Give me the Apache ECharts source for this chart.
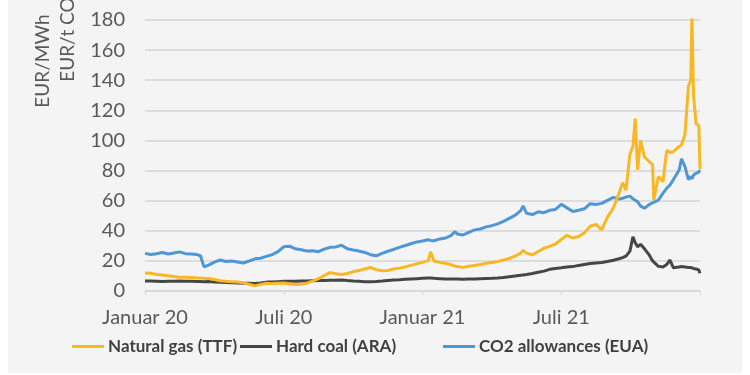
<!DOCTYPE html>
<html>
<head>
<meta charset="utf-8">
<script src="https://cdn.jsdelivr.net/npm/echarts@6/dist/echarts.min.js"></script>
<style>
html,body{margin:0;padding:0;background:#ffffff;}
#chart{width:750px;height:375px;}
</style>
</head>
<body>
<div id="chart"></div>
<script>
// x positions: months since January 2020 (0 = 1 Jan 2020, 24 = 1 Jan 2022)
var t = [0,0.25,0.5,0.75,1,1.25,1.5,1.75,2,2.25,2.4,2.55,2.75,3,3.25,3.5,3.75,4,4.25,4.5,4.75,5,5.25,5.5,5.75,6,6.25,6.5,6.75,7,7.25,7.5,7.75,8,8.25,8.5,8.75,9,9.25,9.5,9.75,10,10.25,10.5,10.75,11,11.25,11.5,11.75,12,12.25,12.35,12.5,12.75,13,13.25,13.4,13.5,13.75,14,14.25,14.5,14.75,15,15.25,15.5,15.75,16,16.25,16.35,16.5,16.75,17,17.25,17.5,17.75,18,18.25,18.5,18.75,19,19.25,19.5,19.75,20,20.25,20.5,20.65,20.8,20.97,21.1,21.2,21.3,21.43,21.6,21.8,21.95,22,22.2,22.4,22.56,22.7,22.85,23.1,23.2,23.35,23.5,23.6,23.65,23.72,23.83,23.95,24];

var gasTTF = [12,11.8,11,10.6,10.2,9.6,9.2,9.1,8.9,8.7,8.6,8.4,8.3,7.6,6.8,6.4,6.2,6,5.4,4.5,3.4,4.4,5.2,4.9,5.1,5.3,4.8,4.3,4.5,5.2,6.6,8.2,10.2,12.2,11.4,11,11.6,12.8,13.6,14.6,15.6,14.2,13.4,13.6,14.6,15.2,16,17,18,19,20.2,26,19.8,19,18.4,17.4,16.6,16.2,15.7,16.4,17,17.6,18.4,19,19.6,20.6,21.6,23.2,25.2,27,25.2,24,26.2,28.4,29.6,31.2,34.2,37,35.2,36.2,38.6,43,44.2,40.6,49.2,55,65,72,67,91,96,114.5,80.5,100,89,86,84,60.5,76,72.6,93.5,92,92.6,96,97,104,136,140,183,130,111,110,81];

var coalARA = [6.6,6.7,6.5,6.3,6.4,6.5,6.6,6.5,6.4,6.3,6.3,6.2,6.3,6.0,5.8,5.6,5.4,5.3,5.2,5.1,5.0,5.3,5.9,6.0,6.2,6.4,6.5,6.5,6.6,6.6,6.8,7.0,7.0,7.1,7.2,7.3,6.9,6.6,6.4,6.2,6.2,6.3,6.6,7.0,7.3,7.5,7.8,8.0,8.2,8.4,8.6,8.6,8.4,8.2,8.0,8.0,7.9,7.9,7.8,7.9,8.0,8.2,8.3,8.4,8.6,9.0,9.5,10,10.5,10.7,11,11.6,12.4,13.2,14.4,15,15.4,16,16.2,17,17.6,18.2,18.6,19,19.6,20.4,21.4,22.2,23.2,26.5,36,32,29.4,31,28,24,20,19.4,16.4,16,17.6,20.6,15.4,16,16.2,16,15.6,15.6,15.2,15,14.6,14,11.8];

var co2EUA = [25,24.3,24.8,25.6,24.6,25.2,26,24.8,24.6,24.2,23.4,16,17.2,19.2,20.6,19.6,19.9,19.3,18.6,19.9,21.4,21.8,23.0,24.2,26.2,29.4,29.8,28,27.4,26.6,26.8,26.1,27.8,29,29.3,30.4,28.1,27.2,26.6,25.6,24.1,23.4,25,26.4,27.6,29,30.2,31.4,32.6,33.2,34,33.6,33.4,34.6,35.2,37,39.6,37.8,37.2,39,40.6,41.2,42.6,43.4,44.6,46.2,48.2,50.2,53.4,56.6,51.6,50.8,52.6,52,53.6,54.2,57.6,55.2,52.8,53.6,54.6,58,57.4,58.2,60.2,62.2,61,61.6,62.4,63,61.2,60.2,59.4,56.4,55,57.4,58.6,58.2,60.4,65,68.2,70.4,74,80.4,87.8,82.6,74,76.2,74.4,77,78.2,79,80.4];

var xTickLabels = ['Januar 20', 'Juli 20', 'Januar 21', 'Juli 21', ''];
var seriesNames = ['Natural gas (TTF)', 'Hard coal (ARA)', 'CO2 allowances (EUA)'];
var yAxisNames = ['EUR/MWh', 'EUR/t CO2'];

function pairs(vals) {
  return vals.map(function (v, i) { return [t[i], v]; });
}

var colors = ['#f8b824', '#464646', '#4f96d4'];
var font = 'Lato, "Open Sans", sans-serif';

var chart = echarts.init(document.getElementById('chart'), null, {renderer: 'canvas'});

function legendFor(name, left) {
  return {
    data: [name],
    left: left,
    top: 338,
    icon: 'rect',
    itemWidth: 32,
    itemHeight: 3,
    itemGap: 0,
    padding: 0,
    textStyle: {color: '#404040', fontSize: 17, fontWeight: 'bold', fontFamily: '"Liberation Sans Narrow", ' + font, padding: [0, 0, 0, -1]}
  };
}

chart.setOption({
  animation: false,
  backgroundColor: '#ffffff',
  graphic: [
    {type: 'rect', z: -10, shape: {x: 8, y: 0, width: 734, height: 373}, style: {fill: '#f4f4f4'}},
    {type: 'text', x: 43, y: 61, rotation: Math.PI / 2,
     style: {text: yAxisNames[0], fontSize: 19, fontFamily: font, fill: '#595959', align: 'center', verticalAlign: 'middle'}},
    {type: 'text', x: 68, y: 34, rotation: Math.PI / 2,
     style: {text: yAxisNames[1], fontSize: 19, fontFamily: font, fill: '#595959', align: 'center', verticalAlign: 'middle'}}
  ],
  legend: [legendFor(seriesNames[0], 72), legendFor(seriesNames[1], 240), legendFor(seriesNames[2], 443)],
  grid: {left: 145, right: 50, top: 20, bottom: 84, containLabel: false},
  xAxis: {
    type: 'value',
    min: 0, max: 24, interval: 6,
    axisLine: {show: true, lineStyle: {color: '#d6d6d6', width: 1.5}},
    axisTick: {show: true, length: 4, lineStyle: {color: '#d6d6d6'}},
    splitLine: {show: false},
    axisLabel: {
      margin: 17, color: '#595959', fontSize: 20, fontFamily: font,
      formatter: function (v) { return xTickLabels[Math.round(v / 6)]; }
    }
  },
  yAxis: {
    type: 'value',
    min: 0, max: 180, interval: 20,
    axisLine: {show: false},
    axisTick: {show: false},
    splitLine: {show: true, lineStyle: {color: '#d6d6d6', width: 1.5}},
    axisLabel: {margin: 20, color: '#595959', fontSize: 20, fontFamily: font}
  },
  series: [
    {name: seriesNames[0], type: 'line', data: pairs(gasTTF), showSymbol: false, symbol: 'none', lineStyle: {color: colors[0], width: 3}, itemStyle: {color: colors[0]}, z: 3},
    {name: seriesNames[1], type: 'line', data: pairs(coalARA), showSymbol: false, symbol: 'none', lineStyle: {color: colors[1], width: 3}, itemStyle: {color: colors[1]}, z: 2},
    {name: seriesNames[2], type: 'line', data: pairs(co2EUA), showSymbol: false, symbol: 'none', lineStyle: {color: colors[2], width: 3}, itemStyle: {color: colors[2]}, z: 2}
  ]
});
</script>
</body>
</html>
